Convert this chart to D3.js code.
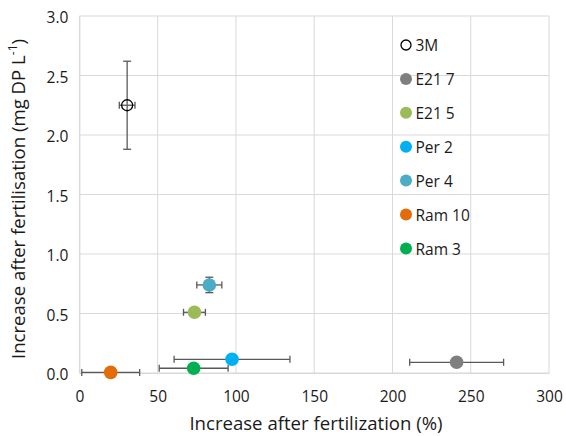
<!DOCTYPE html>
<html><head><meta charset="utf-8">
<script src="https://cdn.jsdelivr.net/npm/d3@7"></script>
<style>body{margin:0;background:#fff;} svg{display:block;font-family:"Open Sans","Liberation Sans",Arial,sans-serif;}</style>
</head><body>
<svg id="c" width="566" height="436"></svg>
<script>
const names = ["3M","E21 7","E21 5","Per 2","Per 4","Ram 10","Ram 3"];
const xVals = [30.5, 241, 73.5, 97.5, 83, 20, 73];
const yVals = [2.25, 0.09, 0.51, 0.115, 0.74, 0.005, 0.04];
const xErr = [5, 30, 7, 37, 8, 18.5, 22];
const yErr = [0.37, 0, 0, 0, 0.065, 0, 0];
const colors = ["none","#7f7f7f","#9bbb59","#00b0f0","#4bacc6","#e36c09","#00b050"];
const xTicks = [0,50,100,150,200,250,300];
const yTicks = [0,0.5,1,1.5,2,2.5,3];

const FONT = '"Open Sans","Liberation Sans",Arial,sans-serif';
const svg = d3.select("#c");
const m = {l:79.4, r:549, t:16, b:373};
const x = d3.scaleLinear().domain([0,300]).range([m.l,m.r]);
const y = d3.scaleLinear().domain([0,3]).range([m.b,m.t]);

// gridlines
svg.append("g").selectAll("line").data(xTicks).join("line")
  .attr("x1",d=>x(d)).attr("x2",d=>x(d)).attr("y1",m.t).attr("y2",m.b)
  .attr("stroke","#d9d9d9").attr("stroke-width",1);
svg.append("g").selectAll("line").data(yTicks).join("line")
  .attr("x1",m.l).attr("x2",m.r).attr("y1",d=>y(d)).attr("y2",d=>y(d))
  .attr("stroke","#d9d9d9").attr("stroke-width",1);

// axes
const xAxis = svg.append("g").attr("transform",`translate(0,${m.b})`)
  .call(d3.axisBottom(x).tickValues(xTicks).tickSize(0).tickPadding(18).tickFormat(d3.format("d")));
const yAxis = svg.append("g").attr("transform",`translate(${m.l},0)`)
  .call(d3.axisLeft(y).tickValues(yTicks).tickSize(0).tickPadding(11).tickFormat(d3.format(".1f")));
[xAxis,yAxis].forEach(a=>{
  a.select(".domain").attr("stroke","#d9d9d9");
  a.selectAll("text").attr("font-size",15.5).attr("fill","#1a1a1a").attr("font-family",FONT);
});
yAxis.selectAll("text").attr("dy","0.45em");

// axis titles
svg.append("text").attr("x",316).attr("y",430).attr("text-anchor","middle")
  .attr("font-size",18.6).attr("fill","#1a1a1a").text("Increase after fertilization (%)");
const yt = svg.append("text").attr("transform",`translate(25,199) rotate(-90)`)
  .attr("text-anchor","middle").attr("font-size",18.6).attr("fill","#1a1a1a");
yt.append("tspan").text("Increase after fertilisation (mg DP L");
yt.append("tspan").attr("font-size",12).attr("dy",-8).text("-1");
yt.append("tspan").attr("dy",8).text(")");

const data = names.map((n,i)=>({n,x:xVals[i],y:yVals[i],ex:xErr[i],ey:yErr[i],c:colors[i]}));

// error bars
const eb = svg.append("g").attr("stroke","#595959").attr("stroke-width",1.3);
data.forEach(d=>{
  if(d.ex>0){
    eb.append("line").attr("x1",x(d.x-d.ex)).attr("x2",x(d.x+d.ex)).attr("y1",y(d.y)).attr("y2",y(d.y));
    [d.x-d.ex,d.x+d.ex].forEach(v=>eb.append("line").attr("x1",x(v)).attr("x2",x(v)).attr("y1",y(d.y)-3.5).attr("y2",y(d.y)+3.5));
  }
  if(d.ey>0){
    eb.append("line").attr("x1",x(d.x)).attr("x2",x(d.x)).attr("y1",y(d.y-d.ey)).attr("y2",y(d.y+d.ey));
    [d.y-d.ey,d.y+d.ey].forEach(v=>eb.append("line").attr("x1",x(d.x)-4).attr("x2",x(d.x)+4).attr("y1",y(v)).attr("y2",y(v)));
  }
});

// points
svg.append("g").selectAll("circle").data(data).join("circle")
  .attr("cx",d=>x(d.x)).attr("cy",d=>y(d.y))
  .attr("r",d=>d.c==="none"?5.5:6.8)
  .attr("fill",d=>d.c==="none"?"none":d.c)
  .attr("stroke",d=>d.c==="none"?"#000":"none").attr("stroke-width",1.3);

// legend
const lg = svg.append("g");
data.forEach((d,i)=>{
  const yy = 45 + i*33.9;
  lg.append("circle").attr("cx",406).attr("cy",yy).attr("r",d.c==="none"?5:6)
    .attr("fill",d.c==="none"?"#fff":d.c).attr("stroke",d.c==="none"?"#000":"none").attr("stroke-width",1.3);
  lg.append("text").attr("x",415.5).attr("y",yy).attr("dy","0.4em").attr("font-size",15.5).attr("fill","#1a1a1a").text(d.n);
});
</script>
</body></html>
